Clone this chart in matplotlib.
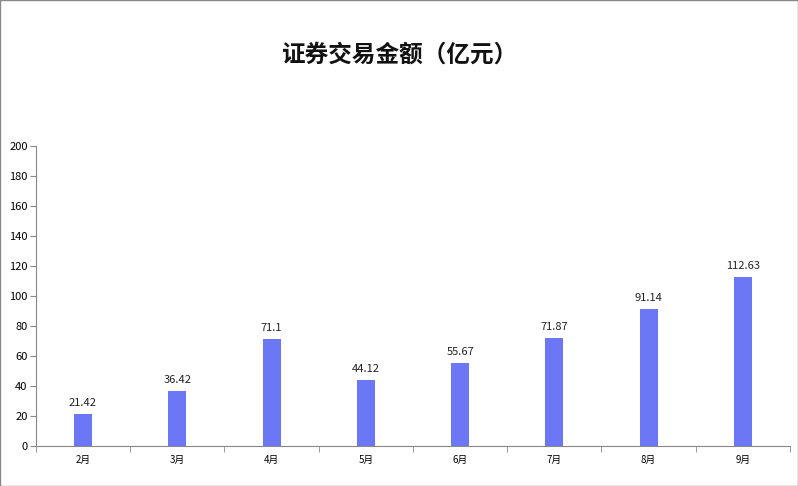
import matplotlib.pyplot as plt
import numpy as np

plt.rcParams['font.family'] = ['Noto Sans CJK SC', 'DejaVu Sans']

months = ['2月', '3月', '4月', '5月', '6月', '7月', '8月', '9月']
amounts = [21.42, 36.42, 71.1, 44.12, 55.67, 71.87, 91.14, 112.63]
labels = ['21.42', '36.42', '71.1', '44.12', '55.67', '71.87', '91.14', '112.63']

fig = plt.figure(figsize=(7.98, 4.86), dpi=100)
fig.patches.append(plt.Rectangle((0, 0), 1, 1, transform=fig.transFigure,
                                 fill=False, edgecolor='#888888', linewidth=1))
ax = fig.add_axes([0.045, 0.082, 0.945, 0.618])

x = np.arange(len(months))
ax.bar(x, amounts, width=0.19, color='#6b77f5')
for xi, v, t in zip(x, amounts, labels):
    ax.text(xi, v + 4, t, ha='center', va='bottom', fontsize=8, color='#222222')

ax.set_xlim(-0.5, len(months) - 0.5)
ax.set_ylim(0, 200)
ax.set_yticks(range(0, 201, 20))
ax.set_xticks(x)
ax.set_xticklabels(months)
ax.set_xticks(np.arange(-0.5, len(months)), minor=True)
ax.tick_params(axis='x', which='major', length=0, labelsize=7, pad=6)
ax.tick_params(axis='x', which='minor', length=4, color='#888888')
ax.tick_params(axis='y', labelsize=8, length=4, color='#888888', pad=2)
for s in ['top', 'right']:
    ax.spines[s].set_visible(False)
for s in ['left', 'bottom']:
    ax.spines[s].set_color('#888888')

fig.text(0.5, 0.887, '证券交易金额（亿元）', ha='center', va='center',
         fontsize=17, fontweight='bold', color='#111111')

fig.savefig('out.png', dpi=100)
